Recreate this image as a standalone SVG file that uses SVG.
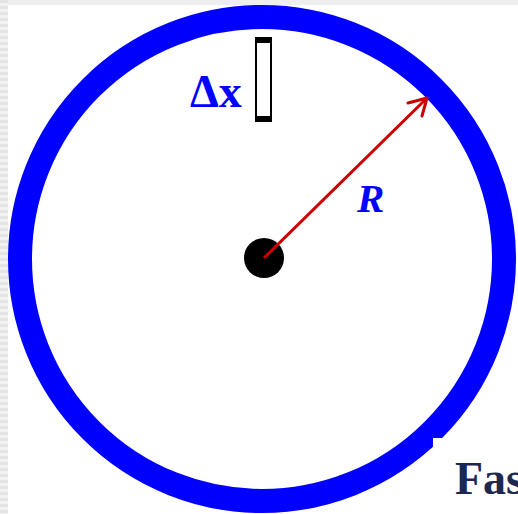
<svg xmlns="http://www.w3.org/2000/svg" width="518" height="514" viewBox="0 0 518 514">
<defs>
<pattern id="stripes" width="8" height="6" patternUnits="userSpaceOnUse">
<rect width="8" height="6" fill="#f2f2f2"/>
<rect y="0" width="8" height="3" fill="#e4e4e4"/>
</pattern>
</defs>
<style>
.lbl{font-family:"Liberation Serif",serif;font-weight:bold;fill:#0000ff}
.red{stroke:#cc0000;stroke-width:3;fill:none}
</style>
<rect width="518" height="514" fill="#ffffff"/>
<rect x="0" y="0" width="518" height="5" fill="#eeeeee"/>
<rect x="0" y="0" width="8" height="514" fill="url(#stripes)"/>
<g id="ring">
<circle cx="262" cy="259" r="242" fill="none" stroke="#0000ff" stroke-width="24"/>
</g>
<g id="caption-box">
<rect x="433" y="438" width="85" height="76" fill="#ffffff"/>
<text x="455" y="494" font-family="Liberation Serif, serif" font-weight="bold" font-size="46" fill="#1c2850">Fas</text>
</g>
<g id="element">
<rect x="256" y="38" width="15" height="83" fill="#ffffff" stroke="#000000" stroke-width="2"/>
<rect x="255" y="37" width="17" height="6" fill="#000000"/>
<rect x="255" y="116" width="17" height="6" fill="#000000"/>
<text class="lbl" x="190" y="107" font-size="46">Δx</text>
</g>
<g id="center">
<circle cx="264" cy="258" r="20" fill="#000000"/>
</g>
<g id="connectors">
<line class="red" x1="264" y1="258" x2="427" y2="98"/>
<polyline class="red" points="408,103 427,98 422,116" stroke-linecap="round" stroke-linejoin="round"/>
</g>
<g id="radius-label">
<text class="lbl" x="357" y="212" font-size="41" font-style="italic">R</text>
</g>
</svg>
